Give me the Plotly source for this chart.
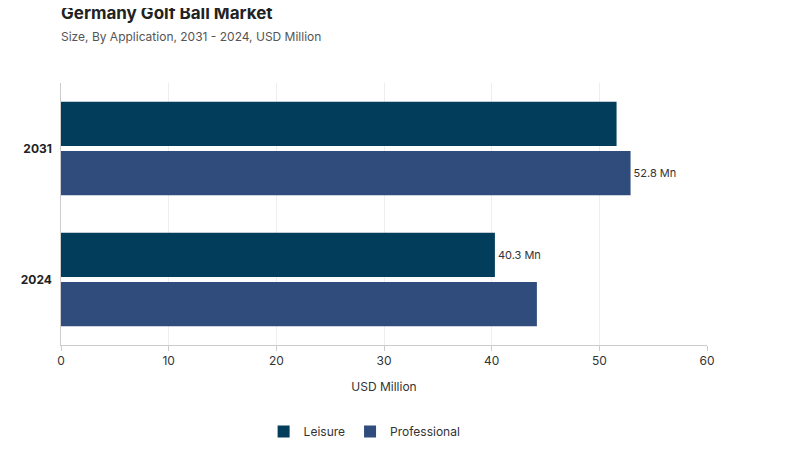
import plotly.graph_objects as go

years = ["2031", "2024"]
leisure = [51.6, 40.3]
professional = [52.9, 44.2]
leisure_labels = ["", "40.3 Mn"]
professional_labels = ["52.8 Mn", ""]
x_ticks = [0, 10, 20, 30, 40, 50, 60]

fig = go.Figure()
fig.add_trace(go.Bar(y=years, x=professional, name="Professional", orientation="h",
                     marker_color="#304C7C", text=professional_labels, textposition="outside",
                     textfont=dict(size=11, color="#333"), cliponaxis=False, legendrank=2))
fig.add_trace(go.Bar(y=years, x=leisure, name="Leisure", orientation="h",
                     marker_color="#023E5B", text=leisure_labels, textposition="outside",
                     textfont=dict(size=11, color="#333"), cliponaxis=False, legendrank=1))

fig.update_layout(
    width=800, height=450, template="none",
    font=dict(family="Inter", color="#333"),
    paper_bgcolor="white", plot_bgcolor="white",
    margin=dict(l=53, r=101, t=75, b=102),
    barmode="group", bargap=0.25, bargroupgap=0.1,
    title=dict(text="<b>Germany Golf Ball Market</b><br><span style='font-size:12px;color:#555'>Size, By Application, 2031 - 2024, USD Million</span>",
               x=0, xref="paper", xanchor="left", y=0.975, yanchor="top", font=dict(size=17, color="#222")),
    xaxis=dict(range=[0, 60], tickvals=x_ticks, showgrid=True, gridcolor="#eee",
               title=dict(text="USD Million", font=dict(size=12)), tickfont=dict(size=12),
               zeroline=False, showline=True, linecolor="#ccc", ticks="outside", ticklen=5, tickcolor="#ccc"),
    yaxis=dict(categoryorder="array", categoryarray=["2024", "2031"], tickfont=dict(size=12, color="#222"),
               showline=True, linecolor="#ccc", showgrid=False, ticks="", ticksuffix="  ", tickprefix="<b>", ),
    legend=dict(orientation="h", x=0.47, xanchor="center", y=-0.33, yanchor="middle", font=dict(size=12)),
)
fig.write_html("out.html")
